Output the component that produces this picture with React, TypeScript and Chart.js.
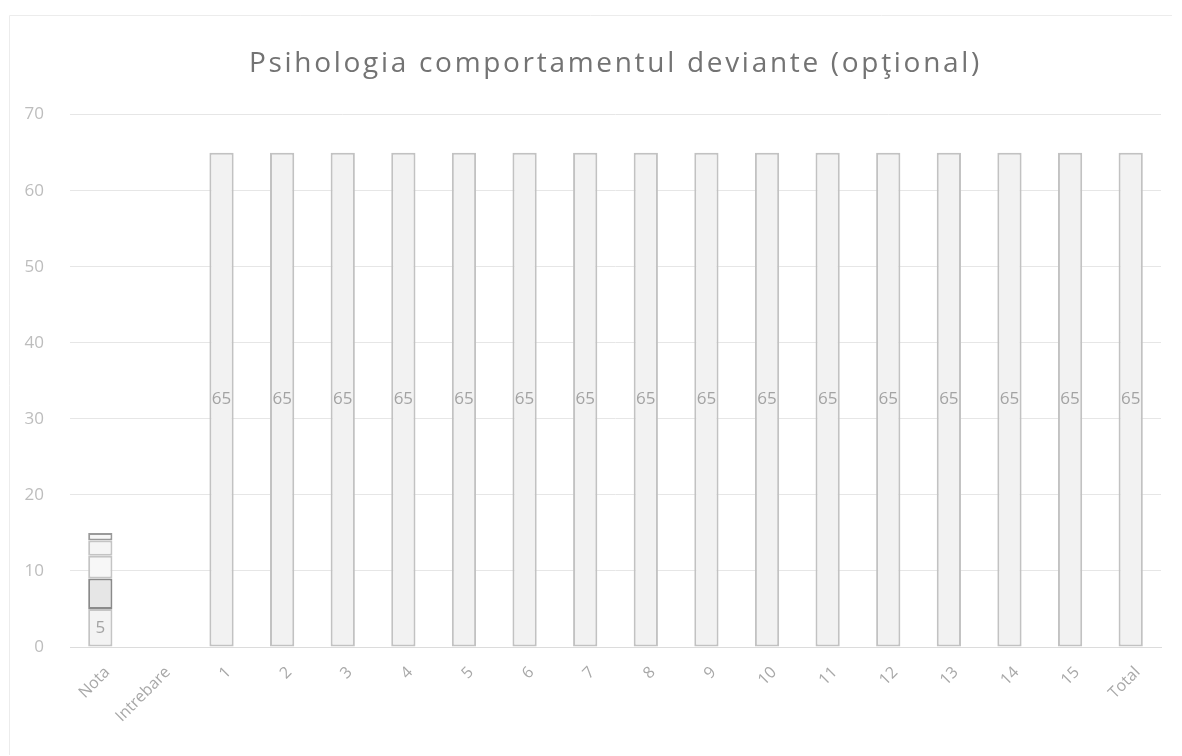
import React, { useEffect, useRef } from "react";
import { Chart, registerables } from "chart.js";

Chart.register(...registerables);

const TITLE = "Psihologia comportamentul deviante (opţional)";
const categories = ["Nota", "Intrebare", "1", "2", "3", "4", "5", "6", "7", "8", "9", "10", "11", "12", "13", "14", "15", "Total"];
const yTicks = [0, 10, 20, 30, 40, 50, 60, 70];
// Nota is a stacked bar made of several segments
const notaSeg1 = [5, null, null, null, null, null, null, null, null, null, null, null, null, null, null, null, null, null];
const notaSeg2 = [4, null, null, null, null, null, null, null, null, null, null, null, null, null, null, null, null, null];
const notaSeg3 = [3, null, null, null, null, null, null, null, null, null, null, null, null, null, null, null, null, null];
const notaSeg4 = [2, null, null, null, null, null, null, null, null, null, null, null, null, null, null, null, null, null];
const notaSeg5 = [1, null, null, null, null, null, null, null, null, null, null, null, null, null, null, null, null, null];
const answers = [null, null, 65, 65, 65, 65, 65, 65, 65, 65, 65, 65, 65, 65, 65, 65, 65, 65];
const labelSeries = [true, false, false, false, false, true];

const FONT = "'Open Sans', 'Noto Sans', sans-serif";
const TITLE_SIZE = 28;
const TITLE_PAD_TOP = 47;

const frame = {
  id: "frame",
  beforeDraw(chart: any) {
    const ctx = chart.ctx;
    ctx.save();
    ctx.strokeStyle = "#ececec";
    ctx.lineWidth = 1;
    ctx.beginPath();
    ctx.moveTo(9.5, 755);
    ctx.lineTo(9.5, 15.5);
    ctx.lineTo(1172, 15.5);
    ctx.stroke();
    ctx.restore();
  },
};

const valueLabels = {
  id: "valueLabels",
  afterDatasetsDraw(chart: any) {
    const ctx = chart.ctx;
    ctx.save();
    ctx.font = `17px ${FONT}`;
    ctx.fillStyle = "#a3a3a3";
    ctx.textAlign = "center";
    ctx.textBaseline = "middle";
    chart.data.datasets.forEach((ds: any, di: number) => {
      if (!labelSeries[di]) return;
      const meta = chart.getDatasetMeta(di);
      meta.data.forEach((bar: any, i: number) => {
        const v = ds.data[i];
        if (v == null) return;
        const y = (bar.y + bar.base) / 2;
        ctx.fillText(String(v), bar.x, y);
      });
    });
    ctx.restore();
  },
};

const spacedTitle = {
  id: "spacedTitle",
  afterDraw(chart: any) {
    const tb = chart.titleBlock;
    if (!tb) return;
    const ctx = chart.ctx;
    ctx.save();
    ctx.font = `${TITLE_SIZE}px ${FONT}`;
    ctx.fillStyle = "#737373";
    (ctx as any).letterSpacing = "2.7px";
    ctx.textAlign = "left";
    ctx.textBaseline = "middle";
    const w = ctx.measureText(TITLE).width;
    const cx = (chart.chartArea.left + chart.chartArea.right) / 2;
    const y = tb.top + TITLE_PAD_TOP + (TITLE_SIZE * 1.2) / 2;
    ctx.fillText(TITLE, cx - w / 2, y);
    ctx.restore();
  },
};

export default function App() {
  const ref = useRef<HTMLCanvasElement>(null);
  useEffect(() => {
    document.body.style.margin = "0";
    const common = { barPercentage: 0.8, categoryPercentage: 0.5, borderWidth: 2, borderSkipped: false };
    const chart = new Chart(ref.current!, {
      type: "bar",
      data: {
        labels: categories,
        datasets: [
          { label: "s1", data: notaSeg1, backgroundColor: "#f3f3f3", borderColor: "#c4c4c4", ...common },
          { label: "s2", data: notaSeg2, backgroundColor: "#e6e6e6", borderColor: "#8a8a8a", ...common },
          { label: "s3", data: notaSeg3, backgroundColor: "#f7f7f7", borderColor: "#c4c4c4", ...common },
          { label: "s4", data: notaSeg4, backgroundColor: "#f5f5f5", borderColor: "#c4c4c4", ...common },
          { label: "s5", data: notaSeg5, backgroundColor: "#f7f7f7", borderColor: "#9a9a9a", ...common },
          { label: "Raspunsuri", data: answers, backgroundColor: "#f2f2f2", borderColor: "#c2c2c2", ...common },
        ],
      },
      options: {
        responsive: false,
        animation: false,
        layout: { padding: { left: 8, right: 21, top: 0, bottom: 0 } },
        plugins: {
          legend: { display: false },
          tooltip: { enabled: false },
          title: {
            display: true,
            text: TITLE,
            color: "rgba(0,0,0,0)",
            font: { family: FONT, size: TITLE_SIZE, weight: "normal" },
            padding: { top: TITLE_PAD_TOP, bottom: 34 },
          },
        },
        scales: {
          x: {
            stacked: true,
            grid: { display: false },
            border: { display: true, color: "#dcdcdc" },
            ticks: {
              color: "#a8a8a8",
              font: { family: FONT, size: 16 },
              minRotation: 45,
              maxRotation: 45,
              padding: 8,
              labelOffset: 7,
            },
            afterFit: (s: any) => { s.height = 109; },
          },
          y: {
            stacked: true,
            min: 0,
            max: 70,
            afterBuildTicks: (s: any) => { s.ticks = yTicks.map((v) => ({ value: v })); },
            grid: { color: "#e6e6e6", drawTicks: false },
            border: { display: false },
            ticks: {
              color: "#bdbdbd",
              font: { family: FONT, size: 17 },
              padding: 26,
            },
            afterFit: (s: any) => { s.width = 62; },
          },
        },
      },
      plugins: [frame, valueLabels, spacedTitle],
    });
    return () => chart.destroy();
  }, []);
  return (
    <div style={{ width: 1182, height: 756, position: "relative" }}>
      <canvas ref={ref} width={1182} height={756} style={{ display: "block" }} />
    </div>
  );
}
